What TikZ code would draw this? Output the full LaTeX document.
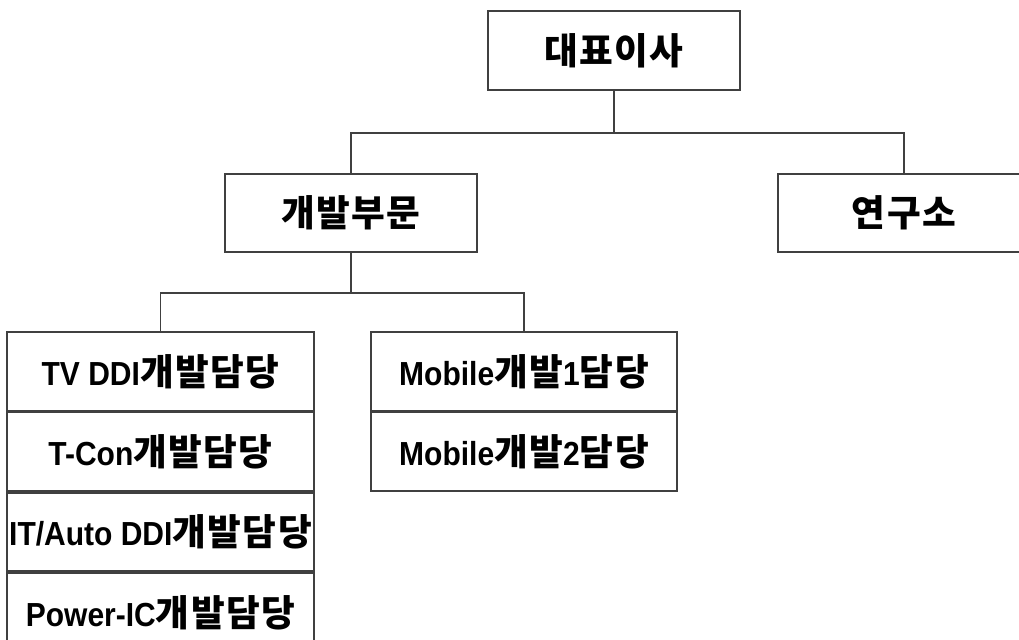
\documentclass[tikz,border=0pt]{standalone}
\usepackage{fontspec}
\setmainfont{Liberation Sans}[FakeStretch=0.9]
\newfontfamily\krfont{Noto Sans CJK KR}[LetterSpace=4]
\newcommand{\ko}[1]{{\krfont\bfseries\fontsize{27.5}{30}\selectfont #1}}
\begin{document}
\begin{tikzpicture}[x=0.75pt,y=-0.75pt,
    line width=1.3pt,
    box/.style={draw=black!75,line width=1.3pt,inner sep=0pt,
      font=\bfseries\fontsize{25}{28}\selectfont},
    topbox/.style={box,minimum width=188.5pt,minimum height=59pt},
    unitbox/.style={box,minimum width=230pt,minimum height=58.9pt},
    link/.style={draw=black!75,line width=1.3pt}]
  \useasboundingbox (0,0) rectangle (1019,639);
  \clip (0,0) rectangle (1019,639);
  % upper levels
  \node[topbox] (ceo) at (614,50.5) {\ko{대표이사}};
  \node[topbox] (dev) at (351,213) {\ko{개발부문}};
  \node[topbox] (lab) at (904,213) {\ko{연구소}};
  \coordinate (b1) at (614,133);
  \draw[link] (ceo.south) -- (b1);
  \draw[link] (dev.north) |- (b1) -| (lab.north);
  % teams
  \node[unitbox] (tvddi) at (160.5,371.5) {TV DDI\ko{개발담당}};
  \node[unitbox,anchor=north] (tcon) at (tvddi.south) {T-Con\ko{개발담당}};
  \node[unitbox,anchor=north] (itauto) at (tcon.south) {IT/Auto DDI\ko{개발담당}};
  \node[unitbox,anchor=north] (power) at (itauto.south) {Power-IC\ko{개발담당}};
  \node[unitbox] (mob1) at (524,371.5) {Mobile\ko{개발}1\ko{담당}};
  \node[unitbox,anchor=north] (mob2) at (mob1.south) {Mobile\ko{개발}2\ko{담당}};
  \coordinate (b2) at (351,293);
  \draw[link] (dev.south) -- (b2);
  \draw[link] (tvddi.north) |- (b2) -| (mob1.north);
\end{tikzpicture}
\end{document}
